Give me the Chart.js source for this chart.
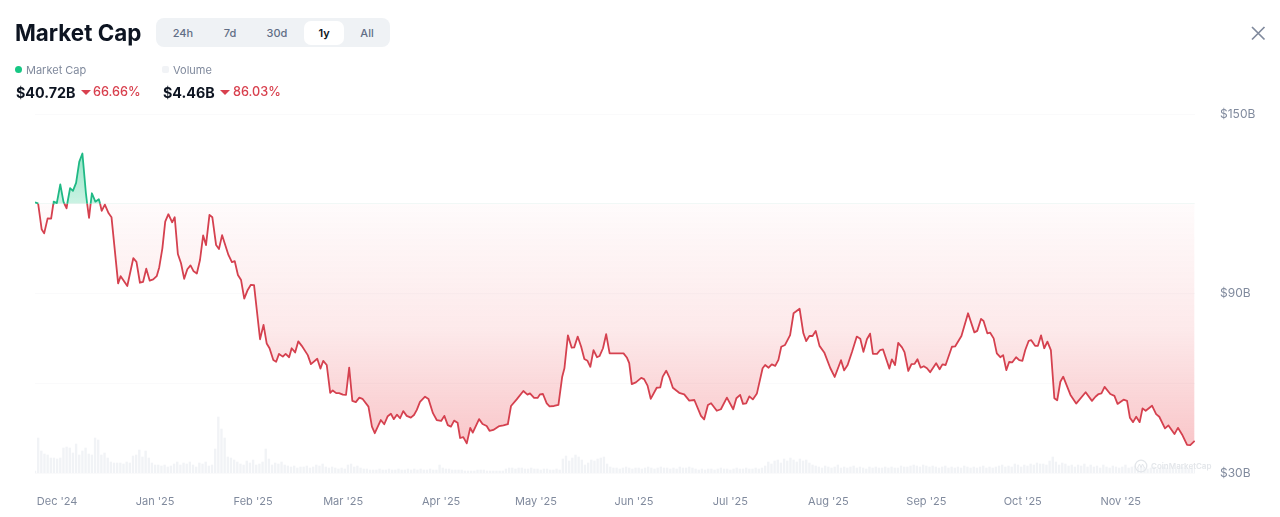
<!DOCTYPE html>
<html>
<head>
<meta charset="utf-8">
<title>Market Cap</title>
<script src="https://cdn.jsdelivr.net/npm/chart.js@4"></script>
<style>
html,body{margin:0;padding:0;background:#fff;width:1280px;height:517px;overflow:hidden;font-family:Inter,"Noto Sans",sans-serif}
#wrap{position:relative;width:1280px;height:517px}
canvas{position:absolute;left:0;top:0}
.t{position:absolute;white-space:nowrap;line-height:1}
#tabs{position:absolute;left:156px;top:18px;width:234px;height:29px;background:#eff2f5;border-radius:8px}
#active{position:absolute;left:304px;top:21px;width:40px;height:24px;background:#fff;border-radius:7px}
.tab{position:absolute;top:27px;width:40px;text-align:center;font-size:11px;font-weight:500;color:#616e85;line-height:12px}
.tri{position:absolute;width:0;height:0;border-left:5px solid transparent;border-right:5px solid transparent;border-top:5px solid #d8404e}
</style>
</head>
<body>
<div id="wrap">
  <canvas id="c" width="1280" height="517"></canvas>
  <div class="t" style="left:15px;top:22px;font-size:22.400px;font-weight:700;color:#0d1421">Market Cap</div>
  <div id="tabs"></div><div id="active"></div>
  <div class="tab" style="left:163px">24h</div>
  <div class="tab" style="left:210px">7d</div>
  <div class="tab" style="left:257px">30d</div>
  <div class="tab" style="left:304px;color:#0d1421;font-weight:600">1y</div>
  <div class="tab" style="left:347px">All</div>
  <svg style="position:absolute;left:1250px;top:25px" width="16" height="16"><path d="M2 2L14.500 14.500M14.500 2L2 14.500" stroke="#808a9d" stroke-width="1.700" fill="none"/></svg>
  <div style="position:absolute;left:15px;top:66px;width:7px;height:7px;border-radius:50%;background:#16c784"></div>
  <div class="t" style="left:26px;top:65px;font-size:11px;color:#808a9d">Market Cap</div>
  <div style="position:absolute;left:162px;top:66px;width:7px;height:7px;border-radius:2px;background:#f1f3f6"></div>
  <div class="t" style="left:173px;top:65px;font-size:11px;color:#808a9d">Volume</div>
  <div class="t" style="left:16px;top:86px;font-size:14.300px;font-weight:700;color:#0d1421">$40.72B</div>
  <div class="tri" style="left:81px;top:90px"></div>
  <div class="t" style="left:93px;top:86px;font-size:12.700px;font-weight:500;color:#d8404e">66.66%</div>
  <div class="t" style="left:163px;top:86px;font-size:14.300px;font-weight:700;color:#0d1421">$4.46B</div>
  <div class="tri" style="left:220px;top:90px"></div>
  <div class="t" style="left:233px;top:86px;font-size:12.700px;font-weight:500;color:#d8404e">86.03%</div>
  <svg style="position:absolute;left:1134px;top:459px" width="14" height="14"><circle cx="7" cy="7" r="5.800" stroke="#e3e6ea" stroke-width="1.300" fill="none"/><path d="M3.500 9L5.500 5L7 8.500L8.500 5L10.500 9" stroke="#e3e6ea" stroke-width="1" fill="none"/></svg>
  <div class="t" style="left:1151px;top:462px;font-size:8px;font-weight:600;color:#e3e6ea">CoinMarketCap</div>
</div>
<script>
const BASELINE = 120;
const monthTicks = [0,31,62,90.5,121.5,151.5,182.5,213,244,275,305.5,336.5];
const monthLabels = ["Dec '24","Jan '25","Feb '25","Mar '25","Apr '25","May '25","Jun '25","Jul '25","Aug '25","Sep '25","Oct '25","Nov '25"];
const valueLabels = {150:"$150B",90:"$90B",30:"$30B"};

const capDays = [-7,-6.1,-6,-4.9,-4.1,-3,-1.9,-1.2,-1.1,-0.1,1,2,2.3,3,3.2,4.1,5,6,7,8,9.1,9.5,10.1,10.6,11,12.1,13.2,13.6,14.1,15.1,16.3,17.2,19.3,20.1,22.2,24.1,25.1,26.2,27.2,28.2,29.3,30.4,31.5,32.3,33.3,34.2,35.2,36.4,37.2,38.2,39.2,40.2,41.2,42.2,43.2,44.2,45.2,46.2,47.1,48.2,49.1,50.3,51.2,52.2,54.2,55.3,56.2,57.2,58.2,59.2,60.3,61.3,62.3,64.2,65.3,66.3,67.2,68.4,69.3,70.2,71.4,72.3,73.4,74.2,75.3,76.3,77.4,79.3,80.3,82.3,83.3,84.2,85.3,86.4,87.2,88.3,89.2,90.4,91.4,92.4,93.4,94.5,95.6,96.6,98.5,99.6,100.5,102.4,103.5,104.6,105.6,106.5,107.5,108.5,109.5,110.6,111.9,112.9,113.8,114.8,116.4,117.5,118.9,120.1,121.5,122.5,123.6,124.6,125.6,126.7,127.5,128.5,129.6,130.7,131.5,133.5,134.6,135.9,136.8,138,139.9,141.2,142.6,143.6,145.4,147.5,148.8,149.6,150.9,152,152.8,153.7,154.9,155.8,157.2,158.6,159.8,160.5,161.6,162.8,163.6,164.7,165.8,166.8,167.8,168.7,169.7,170.8,171.6,172.7,173.7,174.8,178.1,179.2,180.3,181,181.8,183.1,184.8,185.7,186.8,187.8,189.7,190.8,191.6,192.7,193.7,194.8,196.8,198.4,200,201.6,203.7,204.7,205.9,206.9,208.7,210,211.9,213.9,214.9,216.1,217,218,219,220.1,221.4,223.2,224,225.1,226.1,227.2,228.2,229.1,230.3,231.9,233,234.9,236.1,237,238,239,240,241.2,242.7,244.6,246,248,249,250.1,251.5,253,254.1,255.1,256.2,257.2,258.1,259.4,260.4,261.3,263.3,264.1,265.1,266.1,267.3,268.1,269.3,270.3,271.3,272.2,273.2,274.2,275.2,276.2,278.1,279.2,280.1,281.1,283.1,284.1,286.1,288.2,290.2,291.1,292.3,293.1,294.3,295.2,296.3,297.3,298.4,299.3,300.3,301.2,302.2,303.4,304.4,305.4,306.3,307.4,308.2,309.4,310.3,311.3,312.3,313.3,314.4,315.5,316.4,317.4,318.3,320.6,322.4,325.4,327.4,328.5,329.5,330.4,331.4,333.2,334.5,335.5,337.4,338.5,339.4,340.4,341.4,342.5,343.4,344.4,346.4,347.7,348.7,350.5,351.6,353.5,354.6,355.9,357.5,358.5,359.9];
const capValues = [120.5,120.1,120,111.5,110.1,115.1,115,120,120.7,120.2,126.5,120.7,120,118.5,120,125.2,124.3,127,134,136.8,123.6,120,115.3,120,123.5,120.7,121.5,120,117.6,119.7,116.8,115.5,93.4,95.8,92.5,101.8,100.6,93.6,93.9,98.3,94.3,94.7,95.8,98.7,105.1,114,116.5,113.8,115.5,103.2,100.1,94.9,98.1,99.4,97.4,96.7,101.2,109.4,106.2,116.3,115.5,106.2,104.9,109.5,102.9,100.5,100.8,96.2,94.5,88.3,91.2,92.9,92.8,74.7,79.5,73.3,71.7,67.8,67.2,69.8,68.9,69.8,68.7,71.7,70.3,74,72.5,69.4,66.4,68.2,64.9,67.5,66.1,56.8,57.6,56.7,56.7,56.2,56.1,65.2,54.1,53.7,55.2,54.8,52.2,45.5,43.3,47.7,46.3,49,49.8,48,49.5,48.3,50.7,49.1,48.5,49.4,51.1,53.8,55.5,54.7,50,47.7,47.4,49.1,46,45.5,47.5,46.8,41.7,42,39.9,45.1,43.5,48,46.4,45.7,44.1,44.4,45.7,45.9,46.3,52.4,54.6,57.4,56.2,56.6,55.1,55.1,56.3,56.4,53.3,52.3,52.4,52.8,62.2,65,76,71.9,72,75.6,72.2,68.1,67.5,65.5,71.1,68.7,69.1,71.7,76.4,70,70,70,68.5,66.7,59.7,60.3,61.8,61.4,59.2,54.8,58.5,58.6,62.2,64.2,62,58.5,56.8,56.3,54.2,54.4,49.1,47.9,52.7,53.3,50.8,51.3,55.2,51.3,55,56.1,53.1,53.3,55.6,54.6,56.6,65,66.1,65.2,66.3,65.8,67.8,72.2,72.8,76.1,83.4,84.9,76.7,74.1,75.8,75.8,77.5,72.5,70.3,65.1,62.1,67.7,64.3,66.1,70.5,75.6,74.9,70.5,74.7,76.6,69.8,69.8,71.1,71.3,64.9,68,66.1,73.5,72,70.4,64.1,66.4,66.5,68,65.2,65.7,65,63.7,66.7,64.7,66.3,66.1,72.2,72.3,75.8,83.4,77,77.5,81.5,80.8,76.7,76.9,75,70,68.7,69.4,64.4,67.1,67,68.7,67.7,67.5,71.1,74.2,74.4,72.5,72.5,76,71.7,73.9,71.1,55,54.3,60.5,62.2,56.1,53.2,57,54.1,55.5,56.4,56.6,58.8,56.4,55.8,53.1,54.5,54.1,48.5,47,48.8,47,51.6,50.8,52.5,49.7,48.8,44.9,45.9,43,45.1,42.9,39.4,39.3,40.72];

const firstVolumeDay = -7;
const volumeValues = [2,35,22,19,18,15,15,14,15,25,26,25,20,29,18,22,25,19,18,35,33,18,20,15,11,10,10,10,9,11,10,17,18,23,16,22,15,10,8,
8,7,8,6,7,9,11,8,10,9,11,8,6,10,9,11,7,8,
24,56,44,35,
16,15,13,11,9,8,12,10,13,8,9,11,24,14,8,10,9,11,8,7,6,7,5,6,6,7,5,6,8,7,9,6,5,6,5,4,5,4,
8,9,6,7,5,4,4,3,3,3,4,3,3,4,3,3,4,
3,3,4,3,4,3,4,3,3,4,3,3,8,5,4,4,3,3,3,3,2,2,2,2,3,3,3,
2,2,2,2,2,2,4,5,5,4,5,5,4,4,5,4,4,3,4,4,3,3,4,3,
14,17,12,15,18,16,13,8,10,13,12,14,15,16,9,6,5,
5,4,5,6,5,4,5,5,4,5,6,5,4,5,6,5,5,4,5,4,6,5,5,6,5,4,3,4,3,4,4,3,4,5,4,4,3,4,5,4,4,5,4,4,5,4,5,
7,11,9,12,13,10,14,12,15,13,11,14,12,13,10,8,7,
6,5,7,6,5,6,8,5,6,5,6,7,5,6,5,4,6,5,6,5,5,6,5,6,5,5,7,6,6,7,8,7,6,8,7,6,7,6,5,6,7,5,6,5,6,5,7,6,5,6,5,6,7,5,6,5,6,7,8,6,7,6,9,8,6,
8,7,9,8,10,9,9,8,12,16,11,8,10,9,7,8,6,8,7,9,6,
8,6,7,5,8,6,5,7,6,5,6,8,5,6,7,5,6,5,4,5,6,4,5,6,5,4,5,4,5,6,5,4,5,4.46];

const GREEN = '#1fb985', RED = '#d5414f';
function redFill(c){
  const s=c.chart.scales.y; if(!s) return 'rgba(234,57,67,0.1)';
  const g=c.chart.ctx.createLinearGradient(0,s.getPixelForValue(BASELINE),0,s.getPixelForValue(36));
  g.addColorStop(0,'rgba(234,57,67,0.02)');
  g.addColorStop(0.5,'rgba(234,57,67,0.11)');
  g.addColorStop(1,'rgba(234,57,67,0.30)');
  return g;
}
function greenFill(c){
  const s=c.chart.scales.y; if(!s) return 'rgba(22,199,132,0.3)';
  const g=c.chart.ctx.createLinearGradient(0,s.getPixelForValue(140),0,s.getPixelForValue(BASELINE));
  g.addColorStop(0,'rgba(22,199,132,0.50)'); g.addColorStop(1,'rgba(22,199,132,0.22)'); return g;
}
new Chart(document.getElementById('c'),{
  data:{datasets:[
    {type:'line',order:0,yAxisID:'y',xAxisID:'x',
     data:capDays.map((d,i)=>({x:d,y:capValues[i]})),
     borderColor:RED,borderWidth:1.8,pointRadius:0,tension:0,borderJoinStyle:'round',
     segment:{borderColor:c=>(c.p0.parsed.y>=BASELINE&&c.p1.parsed.y>=BASELINE)?GREEN:RED},
     fill:{target:{value:BASELINE},above:greenFill,below:redFill}},
    {type:'bar',order:1,yAxisID:'y1',xAxisID:'x',
     data:volumeValues.map((v,i)=>({x:firstVolumeDay+i,y:v})),
     backgroundColor:'#f1f3f6',barThickness:1.7,borderWidth:0}
  ]},
  options:{
    responsive:false,animation:false,
    layout:{padding:{left:35,top:114,right:0,bottom:0}},
    plugins:{legend:{display:false},tooltip:{enabled:false}},
    scales:{
      x:{type:'linear',min:-7,max:360,offset:false,
         grid:{display:false},border:{display:false},
         afterBuildTicks:a=>{a.ticks=monthTicks.map(v=>({value:v}));},
         afterFit:a=>{a.height=44;},
         ticks:{autoSkip:false,maxRotation:0,padding:14,color:'#808a9d',font:{family:'Inter',size:11},
                callback:v=>monthLabels[monthTicks.indexOf(v)]}},
      y:{type:'linear',position:'right',min:30,max:150,
         grid:{color:'#fafafb',drawTicks:false,lineWidth:1},border:{display:false},
         afterFit:a=>{a.width=85;},
         ticks:{stepSize:30,padding:25,color:'#808a9d',font:{family:'Inter',size:12},
                callback:v=>valueLabels[v]||''}},
      y1:{type:'linear',display:false,min:0,max:359}
    }
  }
});
</script>
</body>
</html>
